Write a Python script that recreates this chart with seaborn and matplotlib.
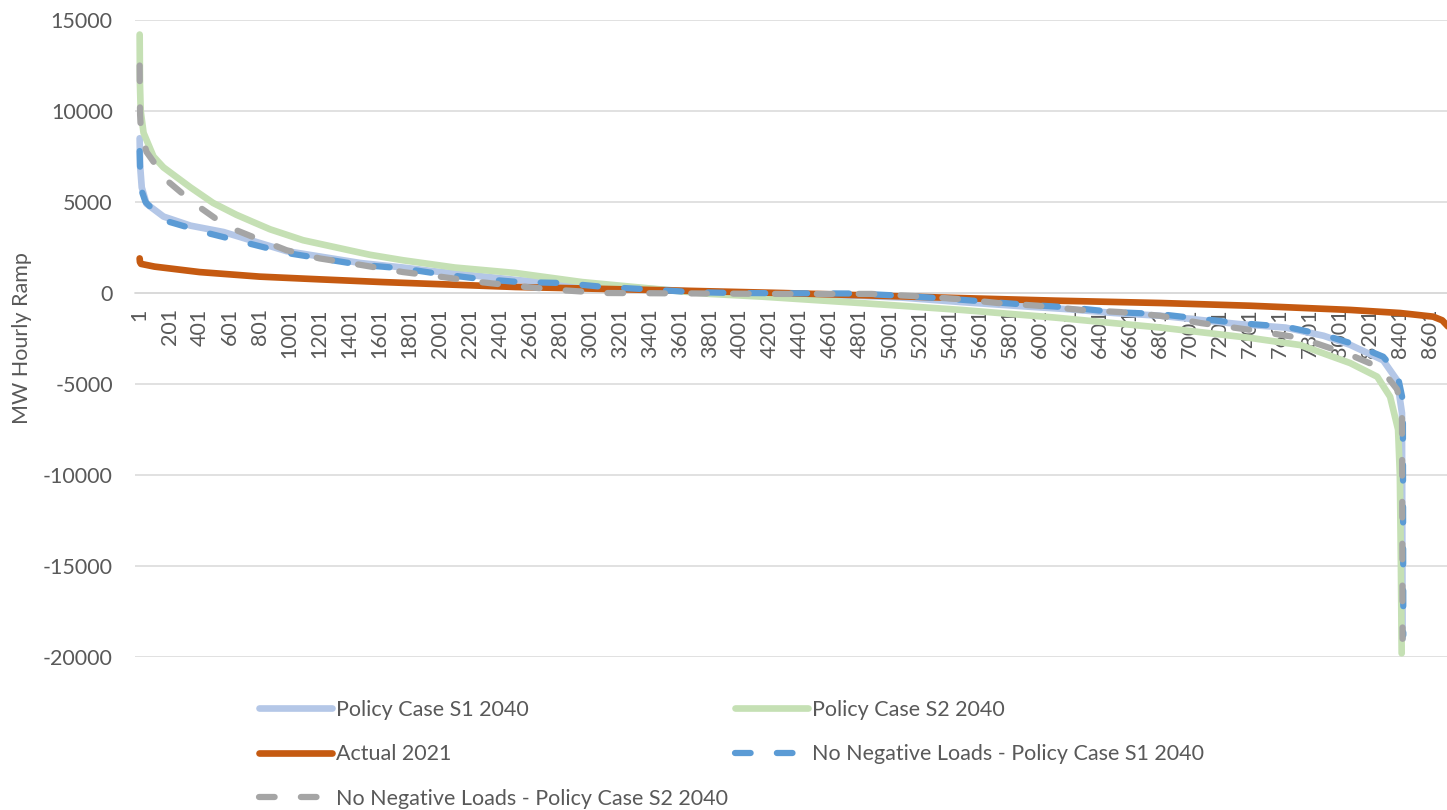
import matplotlib
matplotlib.use("Agg")
import matplotlib.pyplot as plt
import seaborn as sns
import pandas as pd

# Sorted hourly ramps (MW), given as breakpoints along the duration curve
s1_hours = [1, 4, 15, 47, 160, 340, 560, 980, 1470, 1755, 1955, 2240, 2530, 2815, 3100,
            3390, 3680, 3960, 4280, 4780, 5076, 5476, 5920, 6206, 6493, 6805, 7317, 7636,
            7890, 8067, 8287, 8380, 8412, 8416]
s1_ramp = [8500, 7000, 5800, 4900, 4200, 3700, 3350, 2300, 1650, 1400, 1200, 950, 700, 550,
           380, 230, 80, 0, -100, -150, -250, -500, -750, -900, -1100, -1250, -1700, -1900,
           -2350, -2850, -3700, -4800, -6600, -19000]

s2_hours = [1, 3, 8, 27, 93, 160, 250, 340, 490, 645, 757, 870, 1090, 1535, 1755, 2100,
            2505, 2950, 3400, 3800, 4147, 4800, 5476, 6100, 6805, 7403, 7735, 8067, 8247,
            8333, 8386, 8398, 8405, 8410]
s2_ramp = [14200, 11500, 10000, 8800, 7500, 6900, 6350, 5800, 4950, 4300, 3900, 3500, 2900,
           2100, 1800, 1400, 1100, 600, 250, -50, -200, -550, -930, -1350, -1900, -2470,
           -2860, -3850, -4600, -5700, -7500, -10000, -15000, -19800]

actual_hours = [1, 3, 10, 100, 200, 400, 800, 1200, 1620, 2505, 3395, 4280, 4800, 5476,
                6100, 6805, 7403, 8067, 8400, 8620, 8680, 8720]
actual_ramp = [1900, 1700, 1600, 1450, 1350, 1150, 900, 750, 600, 330, 170, 0, -120, -280,
               -420, -550, -700, -930, -1100, -1300, -1500, -1850]

nn_s1_hours = [1, 4, 15, 40, 160, 450, 980, 1470, 1755, 1955, 2240, 2530, 2815, 3100, 3390,
               3680, 3960, 4780, 5076, 5362, 5920, 6206, 6493, 6785, 7317, 7636, 7890, 8067,
               8287, 8380, 8418, 8421]
nn_s1_ramp = [7800, 6800, 5600, 5000, 4000, 3300, 2200, 1550, 1350, 1100, 800, 600, 550, 330,
              200, 50, 0, -30, -150, -300, -650, -800, -1050, -1150, -1650, -1850, -2300,
              -2750, -3500, -4400, -5900, -18800]

nn_s2_hours = [1, 2, 4, 10, 47, 180, 360, 540, 645, 780, 980, 1200, 1470, 1755, 2000, 2270,
               2550, 2820, 3100, 3600, 4280, 4877, 5163, 5455, 5720, 5987, 6273, 6540, 6800,
               7070, 7403, 7735, 8067, 8266, 8380, 8412, 8416]
nn_s2_ramp = [12500, 11100, 9800, 8800, 7750, 6200, 4950, 3900, 3450, 3000, 2350, 1900, 1550,
              1150, 900, 600, 350, 150, 0, -20, -50, -50, -170, -330, -550, -700, -930, -1050,
              -1250, -1650, -2030, -2470, -3400, -4100, -5300, -6600, -19000]

series_names = ["Policy Case S1 2040", "Policy Case S2 2040", "Actual 2021",
                "No Negative Loads - Policy Case S1 2040",
                "No Negative Loads - Policy Case S2 2040"]

tick_hours = list(range(1, 8602, 200))
tick_labels = [str(h) for h in tick_hours]
y_ticks = [-20000, -15000, -10000, -5000, 0, 5000, 10000, 15000]

sns.set_style("white")
plt.rcParams["font.family"] = ["Lato", "DejaVu Sans"]

text_color = "#595959"
grid_color = "#D9D9D9"
fs = 15.5

W, H = 1447, 810
fig = plt.figure(figsize=(W / 100, H / 100), dpi=100)
ax = fig.add_axes([135 / W, 1 - 657 / H, (W - 135) / W, (657 - 20) / H])

dash = (0, (2.5, 4.2))
styles = [
    dict(color="#B4C7E7", lw=4.8, ls="-"),
    dict(color="#C5E0B4", lw=4.8, ls="-"),
    dict(color="#C55A11", lw=4.8, ls="-"),
    dict(color="#5B9BD5", lw=4.5, ls=dash),
    dict(color="#A5A5A5", lw=4.5, ls=dash),
]
data = [(s1_hours, s1_ramp), (s2_hours, s2_ramp), (actual_hours, actual_ramp),
        (nn_s1_hours, nn_s1_ramp), (nn_s2_hours, nn_s2_ramp)]

handles = []
for (hrs, vals), name, st in zip(data, series_names, styles):
    df = pd.DataFrame({"hour": hrs, "ramp": vals})
    sns.lineplot(data=df, x="hour", y="ramp", ax=ax, color=st["color"],
                 linewidth=st["lw"], linestyle=st["ls"], label=name,
                 solid_capstyle="round", dash_capstyle="round", solid_joinstyle="round")
    handles.append(ax.get_lines()[-1])

if ax.get_legend() is not None:
    ax.get_legend().remove()

# Category axis sits on the zero line
for side in ["top", "right", "left"]:
    ax.spines[side].set_visible(False)
ax.spines["bottom"].set_position(("data", 0))
ax.spines["bottom"].set_color(grid_color)
ax.spines["bottom"].set_linewidth(1.1)
ax.spines["bottom"].set_zorder(0.5)

ax.set_xlim(-30, 8712)
ax.set_ylim(-20000, 15000)
ax.set_yticks(y_ticks)
ax.set_yticklabels([str(v) for v in y_ticks])
ax.set_xticks(tick_hours)
ax.set_xticklabels(tick_labels)
ax.set_xlabel("")
ax.set_ylabel("")

ax.grid(axis="y", color=grid_color, lw=1.1)
ax.grid(axis="x", visible=False)
ax.set_axisbelow(True)

ax.tick_params(axis="x", length=0, pad=11, labelsize=fs, labelcolor=text_color,
               labelrotation=90)
ax.tick_params(axis="y", length=0, pad=16, labelsize=fs, labelcolor=text_color)

fig.text(22 / W, 1 - 338 / H, "MW Hourly Ramp", rotation=90, ha="center", va="center",
         fontsize=fs, color=text_color)

leg_kw = dict(loc="upper left", frameon=False, fontsize=fs, handlelength=3.4,
              handletextpad=0.2, labelspacing=1.13, borderpad=0, borderaxespad=0,
              labelcolor=text_color)
col1 = [handles[0], handles[2], handles[4]]
col2 = [handles[1], handles[3]]
fig.legend(col1, [h.get_label() for h in col1], bbox_to_anchor=(259 / W, 1 - 700 / H), **leg_kw)
fig.legend(col2, [h.get_label() for h in col2], bbox_to_anchor=(735 / W, 1 - 700 / H), **leg_kw)

fig.savefig("out.png", dpi=100)
